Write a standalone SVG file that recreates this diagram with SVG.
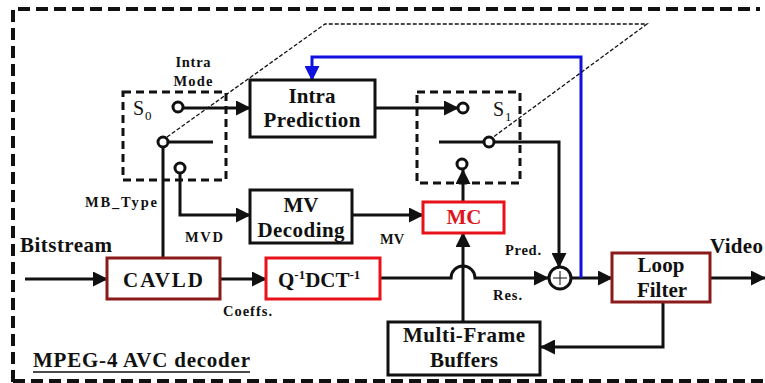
<svg xmlns="http://www.w3.org/2000/svg" width="765" height="383" viewBox="0 0 765 383">
<style>
text{font-family:"Liberation Serif","Times New Roman",serif;font-weight:bold;fill:#111}
.big{font-size:21px}
.sm{font-size:14.5px}
.box{fill:#fff;stroke:#111;stroke-width:3}
.dred{stroke:#8b1a1a}
.red{stroke:#e8121a}
.ln{fill:none;stroke:#111;stroke-width:3}
.sw{fill:#fff;stroke:#111;stroke-width:3}
.dbox{fill:none;stroke:#111;stroke-width:3;stroke-dasharray:8 5}
</style>
<defs>
<marker id="ah" markerUnits="userSpaceOnUse" markerWidth="15" markerHeight="15" refX="14" refY="7.5" orient="auto">
<path d="M0,0 L15,7.5 L0,15 Z" fill="#111"/>
</marker>
<marker id="ahb" markerUnits="userSpaceOnUse" markerWidth="15" markerHeight="15" refX="14" refY="7.5" orient="auto">
<path d="M0,0 L15,7.5 L0,15 Z" fill="#1010e0"/>
</marker>
</defs>
<rect width="765" height="383" fill="#fff"/>
<!-- outer dashed frame -->
<path d="M13,382 V9 H760 M13,381 H765" fill="none" stroke="#111" stroke-width="4" stroke-dasharray="12 6"/>
<text x="33" y="367" class="big" textLength="217" lengthAdjust="spacing">MPEG-4 AVC decoder</text>
<line x1="33" y1="372" x2="250" y2="372" stroke="#111" stroke-width="1.5"/>

<g id="connectors">
<path class="ln" d="M25,279 H107" marker-end="url(#ah)"/>
<path class="ln" d="M220,279 H266" marker-end="url(#ah)"/>
<path class="ln" d="M380,278 H451 A12,12 0 0 1 475,278 H548" marker-end="url(#ah)"/>
<path class="ln" d="M571,278 H612" marker-end="url(#ah)"/>
<path class="ln" d="M710,278 H765" marker-end="url(#ah)"/>
<path class="ln" d="M663,302 V347 H541" marker-end="url(#ah)"/>
<path class="ln" d="M463,322 V233" marker-end="url(#ah)"/>
<path class="ln" d="M463,202 V170" marker-end="url(#ah)"/>
<path class="ln" d="M375,108 H458" marker-end="url(#ah)"/>
<path class="ln" d="M439,142 H484"/>
<path class="ln" d="M494,142 H559 V267" marker-end="url(#ah)"/>
<path fill="none" stroke="#1010e0" stroke-width="3" d="M581,278 V57 H312 V80" marker-end="url(#ahb)"/>
<path class="ln" d="M183,108 H250" marker-end="url(#ah)"/>
<path class="ln" d="M168,142 H213"/>
<path class="ln" d="M163,147 V258"/>
<path class="ln" d="M180,173 V215 H250" marker-end="url(#ah)"/>
<path class="ln" d="M352,215 H423" marker-end="url(#ah)"/>
<path fill="none" stroke="#111" stroke-width="1.3" stroke-dasharray="4 2" d="M167,137 L325,24 H647 L492,138"/>
</g>

<g id="S0">
<rect class="dbox" x="123" y="92" width="103" height="88"/>
<text x="133" y="115" style="font-weight:normal;font-size:20px">S</text>
<text x="145" y="120" style="font-weight:normal;font-size:13px">0</text>
<circle class="sw" cx="178" cy="107" r="5"/>
<circle class="sw" cx="163" cy="142" r="5"/>
<circle class="sw" cx="180" cy="168" r="5"/>
</g>

<g id="S1">
<rect class="dbox" x="417" y="92" width="103" height="91"/>
<text x="493" y="116" style="font-weight:normal;font-size:20px">S</text>
<text x="505" y="121" style="font-weight:normal;font-size:13px">1</text>
<circle class="sw" cx="463" cy="108" r="5"/>
<circle class="sw" cx="489" cy="142" r="5"/>
<circle class="sw" cx="462" cy="164" r="5"/>
</g>

<g id="intra-mode-label">
<text x="193" y="67" class="sm" text-anchor="middle" textLength="35">Intra</text>
<text x="193" y="86" class="sm" text-anchor="middle" textLength="39">Mode</text>
</g>

<g id="intra-prediction">
<rect class="box" x="250" y="80" width="125" height="57"/>
<text x="312" y="103" class="big" text-anchor="middle" textLength="47">Intra</text>
<text x="312" y="127" class="big" text-anchor="middle" textLength="97">Prediction</text>
</g>

<g id="mv-decoding">
<rect class="box" x="250" y="190" width="102" height="53"/>
<text x="301" y="212" class="big" text-anchor="middle" textLength="35">MV</text>
<text x="301" y="237" class="big" text-anchor="middle" textLength="87">Decoding</text>
</g>

<g id="mc">
<rect class="box red" x="423" y="202" width="81" height="31"/>
<text x="464" y="224" class="big" text-anchor="middle" textLength="35" style="fill:#e0141c">MC</text>
</g>

<g id="cavld">
<rect class="box dred" x="107" y="258" width="113" height="41"/>
<text x="163" y="287" class="big" text-anchor="middle" textLength="80">CAVLD</text>
</g>

<g id="qdct">
<rect class="box red" x="266" y="258" width="114" height="41"/>
<text x="278" y="287" class="big">Q<tspan font-size="13" dy="-8">-1</tspan><tspan dy="8">DCT</tspan><tspan font-size="13" dy="-8">-1</tspan></text>
</g>

<g id="adder">
<circle class="sw" cx="560" cy="278" r="11"/>
<path d="M553,278 H567 M560,271 V285" stroke="#111" stroke-width="1"/>
</g>

<g id="loop-filter">
<rect class="box dred" x="612" y="253" width="98" height="49"/>
<text x="661" y="272" class="big" text-anchor="middle" textLength="47">Loop</text>
<text x="662" y="297" class="big" text-anchor="middle" textLength="50">Filter</text>
</g>

<g id="mfb">
<rect class="box" x="388" y="322" width="152" height="53"/>
<text x="464" y="342" class="big" text-anchor="middle" textLength="122">Multi-Frame</text>
<text x="464" y="367" class="big" text-anchor="middle" textLength="68">Buffers</text>
</g>

<g id="labels">
<text x="20" y="252" class="big" textLength="92">Bitstream</text>
<text x="710" y="253" class="big" textLength="53">Video</text>
<text x="85" y="207" class="sm" textLength="72">MB_Type</text>
<text x="185" y="242" class="sm" textLength="38">MVD</text>
<text x="380" y="244" class="sm">MV</text>
<text x="223" y="316" class="sm" textLength="49">Coeffs.</text>
<text x="505" y="255" class="sm" textLength="36">Pred.</text>
<text x="493" y="300" class="sm" textLength="29">Res.</text>
</g>
</svg>
